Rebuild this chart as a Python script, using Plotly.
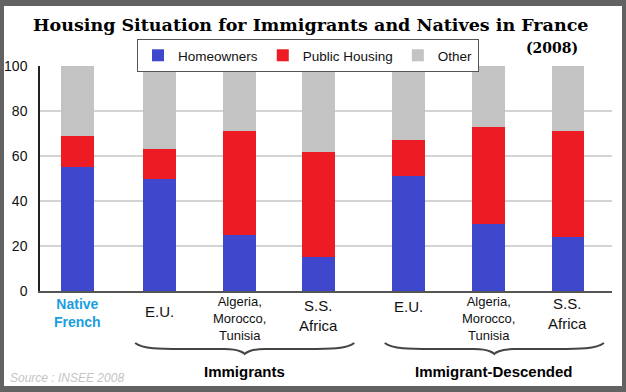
import plotly.graph_objects as go

# ---- data ----
categories = ["Native French", "E.U.", "Algeria, Morocco, Tunisia", "S.S. Africa",
              "E.U.", "Algeria, Morocco, Tunisia", "S.S. Africa"]
tick_labels = ["Native<br>French", "E.U.", "Algeria,<br>Morocco,<br>Tunisia", "S.S.<br>Africa",
               "E.U.", "Algeria,<br>Morocco,<br>Tunisia", "S.S.<br>Africa"]
x_pos = [0, 1.02, 2.02, 3.01, 4.14, 5.14, 6.13]
homeowners = [55, 50, 25, 15, 51, 30, 24]
public_housing = [14, 13, 46, 47, 16, 43, 47]
other = [100 - h - p for h, p in zip(homeowners, public_housing)]
y_ticks = [0, 20, 40, 60, 80, 100]
groups = ["Immigrants", "Immigrant-Descended"]

BLUE = "#3f48cc"
RED = "#ed1c24"
GRAY = "#c3c3c3"

# pixel geometry helpers (plot area: x 40..612, y 66..291)
L, R, T, B = 40, 14, 66, 101
W, H = 626, 392
PW, PH = W - L - R, H - T - B
def px(xp):
    return (xp - L) / PW
def py(yp):
    return (H - B - yp) / PH

fig = go.Figure()
for name, vals, col in [("Homeowners", homeowners, BLUE),
                        ("Public Housing", public_housing, RED),
                        ("Other", other, GRAY)]:
    fig.add_trace(go.Bar(x=x_pos, y=vals, name=name, marker=dict(color=col, line=dict(width=0)),
                         width=0.41, hovertext=categories))

fig.update_layout(
    barmode="stack",
    width=W, height=H,
    margin=dict(l=L, r=R, t=T, b=B, autoexpand=False),
    paper_bgcolor="#626262",
    plot_bgcolor="rgba(0,0,0,0)",
    font=dict(family="Liberation Sans, Arial, sans-serif", size=14, color="#111"),
    showlegend=True,
    legend=dict(orientation="h", x=px(308), y=py(39), xanchor="center", yanchor="top",
                bgcolor="white", bordercolor="#555", borderwidth=1,
                font=dict(size=13.5, color="#111"), traceorder="normal",
                itemwidth=30, tracegroupgap=0),
    xaxis=dict(range=[-0.469, 6.681], showticklabels=False, showgrid=False, zeroline=False,
               showline=True, linecolor="#555", linewidth=2, ticks="", fixedrange=True),
    yaxis=dict(range=[0, 100], tickvals=y_ticks, showgrid=True, gridcolor="#d4d4d4", gridwidth=2,
               zeroline=False, showline=True, linecolor="#222", linewidth=1.5, ticks="",
               ticklabelstandoff=8, tickfont=dict(size=14, color="#111")),
)

# white inner panel over the dark frame
fig.add_shape(type="rect", xref="paper", yref="paper", layer="below",
              x0=px(4), x1=px(622), y0=py(386), y1=py(6),
              fillcolor="white", line=dict(width=0))

# title
fig.add_annotation(text="<b>Housing Situation for Immigrants and Natives in France</b>",
                   xref="paper", yref="paper", x=px(310), y=py(25), xanchor="center", yanchor="middle",
                   showarrow=False, font=dict(family="DejaVu Serif, serif", size=17.5, color="black"))
fig.add_annotation(text="<b>(2008)</b>", xref="paper", yref="paper", x=px(552), y=py(48),
                   xanchor="center", yanchor="middle", showarrow=False,
                   font=dict(family="DejaVu Serif, serif", size=14, color="black"))

# category labels
label_y = [313, 311, 318, 315, 306, 318, 313]
for i, (xp, lab) in enumerate(zip(x_pos, tick_labels)):
    if i == 0:
        f = dict(size=14, color="#1a9ee0", family="Liberation Sans, Arial, sans-serif")
        txt = "<b>" + lab + "</b>"
    elif "Algeria" in lab:
        f = dict(size=13, color="#111")
        txt = lab
    else:
        f = dict(size=15, color="#111")
        txt = lab
    fig.add_annotation(text=txt, x=xp, xref="x", yref="paper", y=py(label_y[i]),
                       xanchor="center", yanchor="middle", showarrow=False, font=f)

# braces + group labels
brace_groups = [(x_pos[1], x_pos[3]), (x_pos[4], x_pos[6])]
for (a, b), g in zip(brace_groups, groups):
    x0 = a - 0.3
    x1 = b + 0.45
    xm = (x0 + x1) / 2
    y_top = py(343)
    y_line = py(349)
    y_tip = py(354)
    path = (f"M {x0},{y_top} C {x0+0.1},{y_line} {x0+0.3},{y_line} {x0+0.6},{y_line} "
            f"L {xm-0.25},{y_line} C {xm-0.05},{y_line} {xm},{y_tip} {xm},{y_tip} "
            f"C {xm},{y_tip} {xm+0.05},{y_line} {xm+0.25},{y_line} "
            f"L {x1-0.6},{y_line} C {x1-0.3},{y_line} {x1-0.1},{y_line} {x1},{y_top}")
    fig.add_shape(type="path", path=path, xref="x", yref="paper",
                  line=dict(color="#444", width=2))
    fig.add_annotation(text="<b>" + g + "</b>", x=xm, xref="x", yref="paper", y=py(371),
                       xanchor="center", yanchor="middle", showarrow=False,
                       font=dict(size=15, color="black"))

# source
fig.add_annotation(text="<i>Source : INSEE 2008</i>", xref="paper", yref="paper",
                   x=px(8), y=py(378), xanchor="left", yanchor="middle", showarrow=False,
                   font=dict(size=12, color="#c4c4c4"))

fig.write_html("out.html", config={"displayModeBar": False},
               post_script="document.body.style.margin='0';document.body.style.padding='0';"
                           "document.body.style.overflow='hidden';")
